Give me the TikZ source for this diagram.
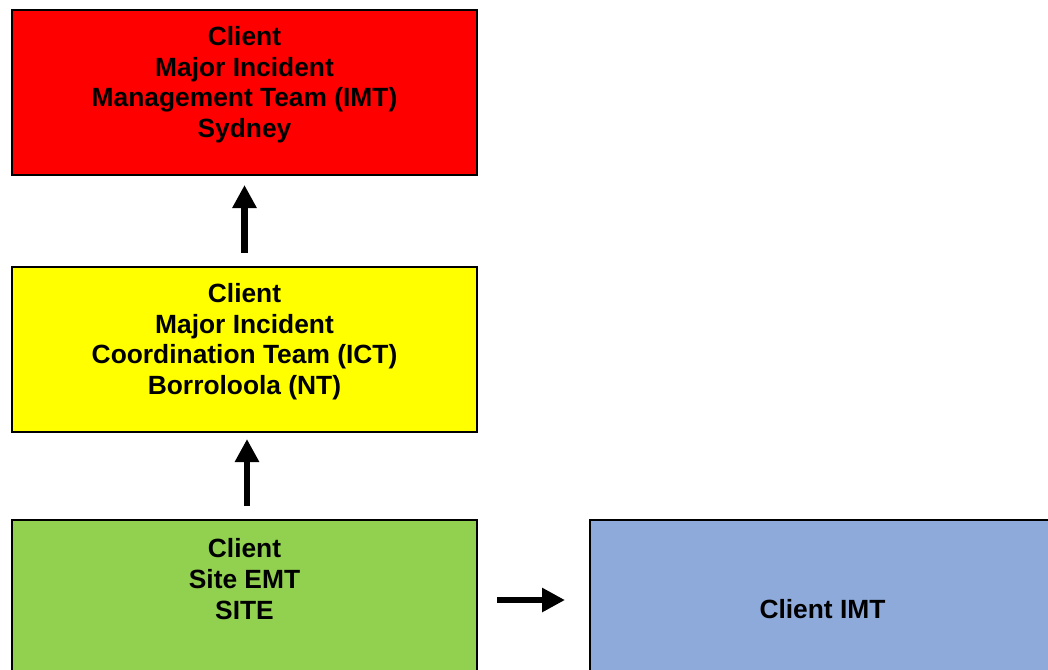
\documentclass[tikz,border=0pt]{standalone}
\usepackage{fontspec}
\setmainfont{Liberation Sans}
\usetikzlibrary{positioning, arrows.meta, calc}

\definecolor{imtred}{HTML}{FF0000}
\definecolor{ictyellow}{HTML}{FFFF00}
\definecolor{sitegreen}{HTML}{92D050}
\definecolor{cimtblue}{HTML}{8EAADB}

\begin{document}
\begin{tikzpicture}[font=\fontsize{15}{17.4}\selectfont\bfseries]
\tikzset{team/.style={draw, line width=0.04cm, rectangle, align=center, minimum width=9.3cm, minimum height=3.3cm, inner sep=0pt}, bigarrow/.style={line width=0.135cm, -{Triangle[length=0.46cm, width=0.46cm]}}}
\clip (0,0) rectangle (20.96,-13.38);
\node[team, fill=imtred, text depth=12.2pt] (IMT) at (4.89,-1.85) {Client\\Major Incident\\Management Team (IMT)\\Sydney};
\node[team, fill=ictyellow, text depth=12.2pt] (ICT) at (4.89,-6.99) {Client\\Major Incident\\Coordination Team (ICT)\\Borroloola (NT)};
\node[team, fill=sitegreen, text depth=26.8pt] (SITE) at (4.89,-12.05) {Client\\Site EMT\\SITE};
\node[team, fill=cimtblue, text height=17.8pt] (CIMT) at (16.45,-12.05) {Client IMT};
\draw[bigarrow, shorten <=0.27cm, shorten >=0.18cm] (ICT) -- (IMT);
\draw[bigarrow, shorten <=0.26cm, shorten >=0.12cm] ([xshift=0.05cm]SITE.north) -- ([xshift=0.05cm]ICT.south);
\draw[bigarrow, shorten <=0.38cm, shorten >=0.48cm] ([yshift=0.05cm]SITE.east) -- ([yshift=0.05cm]CIMT.west);
\end{tikzpicture}
\end{document}
